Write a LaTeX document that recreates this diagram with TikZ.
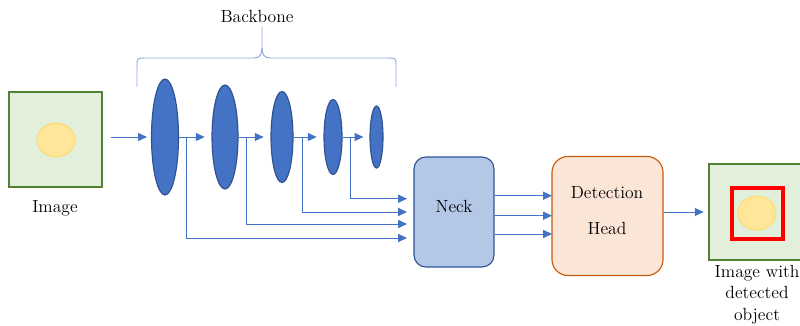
\documentclass[tikz,border=0pt]{standalone}
\usetikzlibrary{arrows.meta,positioning,shapes.geometric,calc}
\definecolor{imgfill}{HTML}{E2EFDA}
\definecolor{imgline}{HTML}{548235}
\definecolor{objfill}{HTML}{FFE699}
\definecolor{objline}{HTML}{FFD966}
\definecolor{layfill}{HTML}{4472C4}
\definecolor{layline}{HTML}{2F528F}
\definecolor{neckfill}{HTML}{B4C7E7}
\definecolor{neckline}{HTML}{2F5597}
\definecolor{headfill}{HTML}{FBE5D6}
\definecolor{headline}{HTML}{C55A11}
\definecolor{braceline}{HTML}{8FAADC}

\begin{document}
\begin{tikzpicture}[x=0.025cm,y=-0.025cm,
        every node/.style={font=\fontsize{12.5}{15}\selectfont},
        imgbox/.style={draw=imgline, fill=imgfill, line width=0.8pt, minimum width=2.325cm, minimum height=2.375cm, inner sep=0pt},
        obj/.style={ellipse, draw=objline, fill=objfill, line width=0.6pt, minimum width=0.95cm, minimum height=0.85cm, inner sep=0pt},
        layer/.style={ellipse, draw=layline, fill=layfill, line width=0.8pt, inner sep=0pt},
        conn/.style={draw=layfill, line width=0.7pt, -{Triangle[length=0.22cm, width=0.2cm]}}
    ]
    \useasboundingbox (0,0) rectangle (800,326);

    \node (imgin) [imgbox] at (55.5,139.5) {};
    \node (objin) [obj] at (56,140) {};
    \node (imglabel) at (55,208) {Image};

    \node (l1) [layer, minimum width=0.675cm, minimum height=2.9cm] at (165,137) {};
    \node (l2) [layer, minimum width=0.65cm, minimum height=2.6cm] at (225,137) {};
    \node (l3) [layer, minimum width=0.55cm, minimum height=2.275cm] at (282,137) {};
    \node (l4) [layer, minimum width=0.45cm, minimum height=1.875cm] at (333,137) {};
    \node (l5) [layer, minimum width=0.325cm, minimum height=1.55cm] at (376.5,137) {};

    \node (neck) [draw=neckline, fill=neckfill, line width=0.8pt, rounded corners=0.3cm, minimum width=2cm, minimum height=2.75cm] at (454,212) {};
    \node (necklabel) at (454,206) {Neck};
    \node (head) [draw=headline, fill=headfill, line width=0.8pt, rounded corners=0.4cm, minimum width=2.775cm, minimum height=2.975cm] at (607.5,216) {};
    \node (headlabel) [align=center, font=\fontsize{12.5}{25.5}\selectfont] at (607,211) {Detection\\Head};

    \node (imgout) [imgbox, minimum width=2.3cm, minimum height=2.4cm] at (755,212) {};
    \node (objout) [obj] at (757,213) {};
    \node (detbox) [draw=red, line width=2.8pt, minimum size=1.275cm, inner sep=0pt] at (757.5,213.5) {};
    \node (outlabel) [align=center, font=\fontsize{12.5}{15.3}\selectfont] at (757,294.5) {Image with\\detected\\object};

    \node (bblabel) at (257,16) {Backbone};
    \draw[braceline, line width=0.7pt] (137,87) -- (137,66) .. controls (137,58) .. (146,58) -- (254,58)
        .. controls (260,58) and (262,54) .. (262,48) -- (262,27);
    \draw[braceline, line width=0.7pt] (262,48) .. controls (262,54) and (264,58) .. (270,58) -- (387,58)
        .. controls (396,58) .. (396,66) -- (396,87);

    \draw[conn, shorten <=0.2cm, shorten >=0.1cm] (imgin.east |- l1) -- (l1);
    \draw[conn, shorten >=0.17cm] (l1) -- (l2);
    \draw[conn, shorten >=0.17cm] (l2) -- (l3);
    \draw[conn, shorten >=0.17cm] (l3) -- (l4);
    \draw[conn, shorten >=0.15cm] (l4) -- (l5);

    \coordinate (b1) at (186.7,137);
    \coordinate (b2) at (246,137);
    \coordinate (b3) at (302.7,137);
    \coordinate (b4) at (350.7,137);
    \coordinate (n1) at (407,198.7);
    \coordinate (n2) at (407,212);
    \coordinate (n3) at (407,224);
    \coordinate (n4) at (407,238);
    \draw[conn] (b4) |- (n1);
    \draw[conn] (b3) |- (n2);
    \draw[conn] (b2) |- (n3);
    \draw[conn] (b1) |- (n4);

    \coordinate (h1) at (552,195.7);
    \coordinate (h2) at (552,215.7);
    \coordinate (h3) at (552,234);
    \draw[conn] (neck.east |- h1) -- (h1);
    \draw[conn] (neck.east |- h2) -- (h2);
    \draw[conn] (neck.east |- h3) -- (h3);
    \draw[conn, shorten >=0.12cm] (head.east |- imgout) -- (imgout);
\end{tikzpicture}
\end{document}
